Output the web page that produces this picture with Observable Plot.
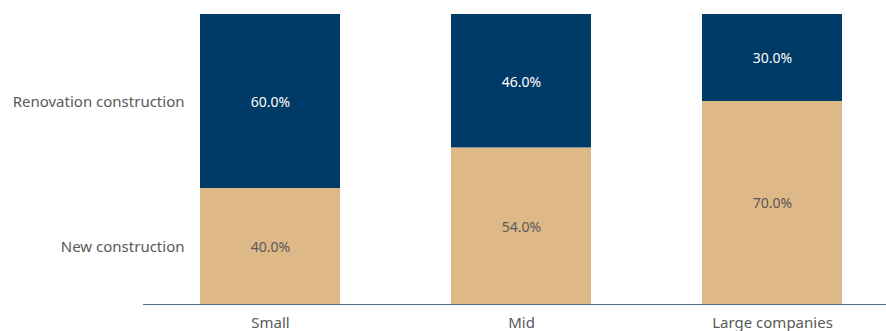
<!DOCTYPE html>
<html>
<head>
<meta charset="utf-8">
<script src="https://cdn.jsdelivr.net/npm/d3@7"></script>
<script src="https://cdn.jsdelivr.net/npm/@observablehq/plot@0.6"></script>
<style>
  html, body { margin: 0; padding: 0; background: #fff; }
  #chart svg { display: block; }
</style>
</head>
<body>
<div id="chart"></div>
<script>
const categories = ["Small", "Mid", "Large companies"];
const seriesNames = ["New construction", "Renovation construction"];
const newConstruction = [40.0, 54.0, 70.0];
const renovation = [60.0, 46.0, 30.0];

const colors = {"New construction": "#deb887", "Renovation construction": "#003a66"};
const textColors = {"New construction": "#595959", "Renovation construction": "#ffffff"};

const rows = [];
categories.forEach((c, i) => {
  rows.push({category: c, series: seriesNames[0], value: newConstruction[i]});
  rows.push({category: c, series: seriesNames[1], value: renovation[i]});
});

const font = "'Noto Sans', sans-serif";

const chart = Plot.plot({
  width: 886,
  height: 331,
  marginLeft: 143,
  marginRight: 0,
  marginTop: 14,
  marginBottom: 27,
  style: {fontFamily: font, fontSize: "15px", color: "#595959", background: "#fff"},
  x: {domain: categories, paddingInner: 0.443, paddingOuter: 0.2, align: 0.56, label: null},
  y: {domain: [0, 100], axis: null},
  color: {domain: seriesNames, range: seriesNames.map(s => colors[s])},
  marks: [
    Plot.barY(rows, {x: "category", y: "value", fill: "series", order: seriesNames}),
    Plot.text(rows, Plot.stackY({
      x: "category", y: "value", z: "series", order: seriesNames,
      text: d => d.value.toFixed(1) + "%",
      fill: d => textColors[d.series],
      fontSize: 14,
      dy: 1
    })),
    Plot.text(rows.filter(d => d.category === categories[0]), Plot.stackY({
      x: "category", y: "value", z: "series", order: seriesNames,
      text: "series",
      textAnchor: "end",
      dx: -86,
      dy: 1,
      fill: "#595959",
      fontSize: 15
    })),
    Plot.ruleY([0], {stroke: "#4f6f94", strokeWidth: 1.2}),
    Plot.axisX({tickSize: 0, tickPadding: 13, fontSize: 15, fill: "#595959"})
  ]
});
document.getElementById("chart").appendChild(chart);
</script>
</body>
</html>
